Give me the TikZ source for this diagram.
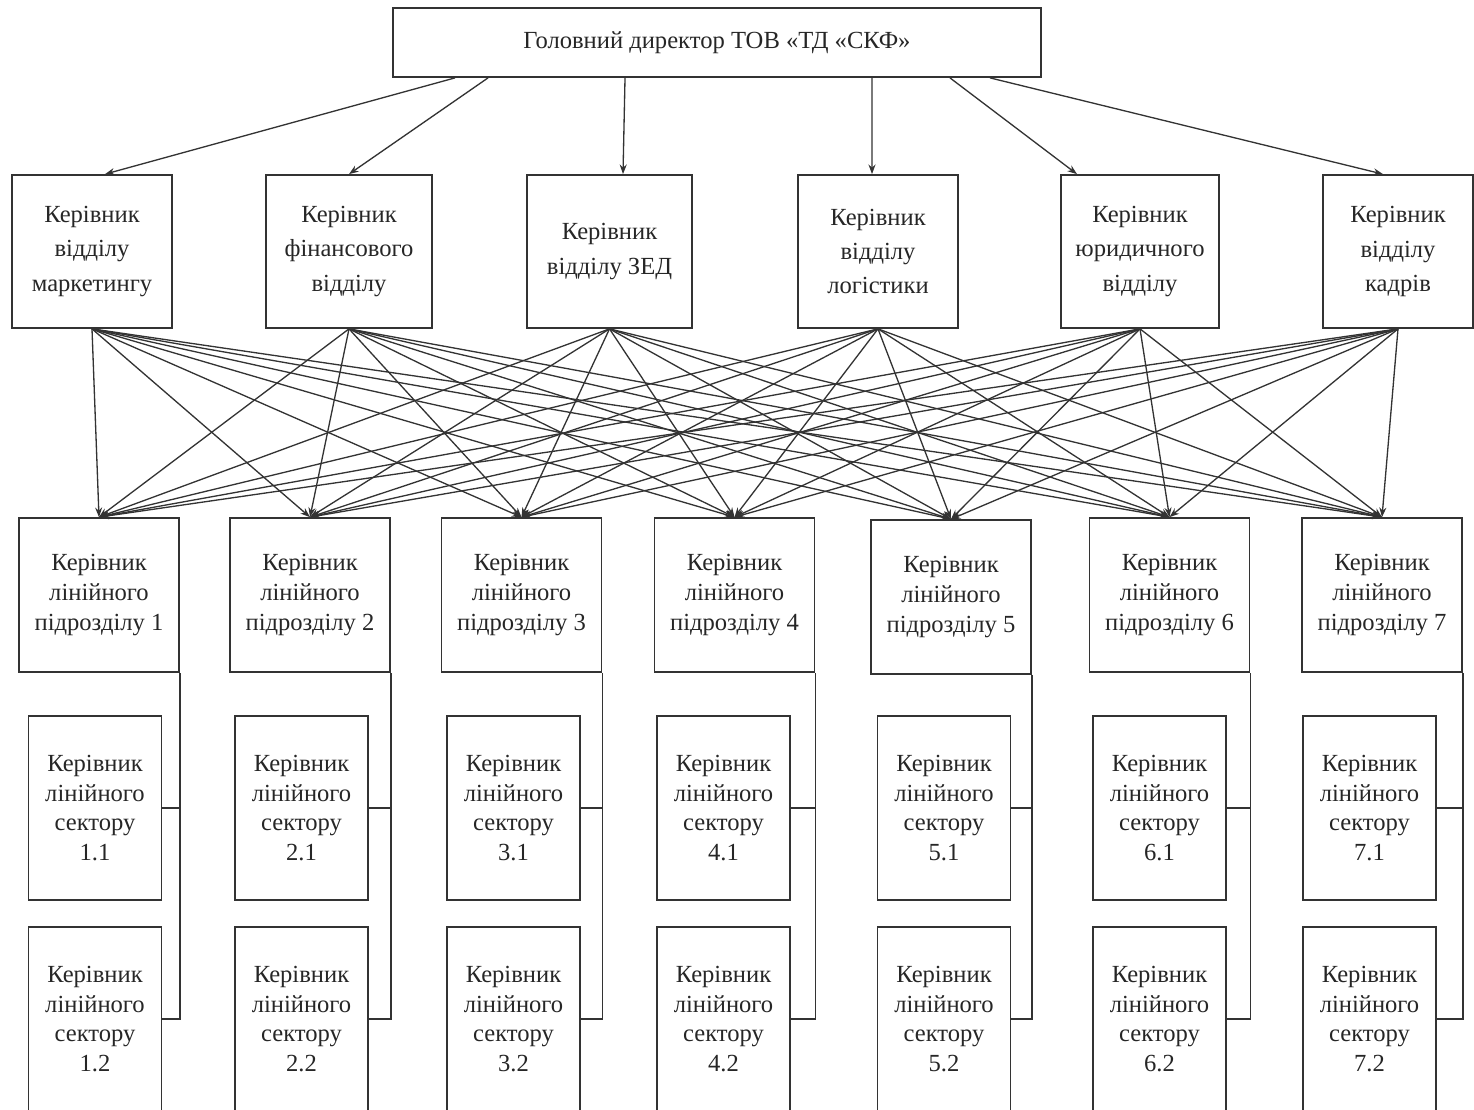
\documentclass[tikz,border=0pt]{standalone}
\usepackage{fontspec}
\setmainfont{Liberation Serif}
\usetikzlibrary{arrows.meta, positioning, calc}
\definecolor{linegray}{HTML}{333333}
\definecolor{textgray}{HTML}{262626}

\begin{document}
\begin{tikzpicture}[x=0.02cm, y=-0.02cm,
  box/.style={rectangle, draw=linegray, line width=1pt, text=textgray, align=center,
    font=\fontsize{14}{17}\selectfont, inner sep=2pt},
  headbox/.style={box, minimum width=12.96cm, minimum height=1.38cm},
  deptbox/.style={box, minimum height=3.06cm, font=\fontsize{14}{19.5}\selectfont},
  linebox/.style={box, minimum width=3.2cm, minimum height=3.08cm},
  sectorbox/.style={box, minimum width=2.66cm, minimum height=3.68cm},
  arrow/.style={-{Stealth[length=5.5pt, width=4pt]}, line width=0.75pt, linegray},
  bracket/.style={line width=0.9pt, linegray}
]
  \clip (0,0) rectangle (1474,1109);

  % Director
  \node[headbox] (dir) at (717, 42.5) {Головний директор ТОВ «ТД «СКФ»};

  % Departments
  \node[deptbox, minimum width=3.2cm]  (d1) at (92, 251.5)   {Керівник\\відділу\\маркетингу};
  \node[deptbox, minimum width=3.32cm] (d2) at (349, 251.5)  {Керівник\\фінансового\\відділу};
  \node[deptbox, minimum width=3.3cm]  (d3) at (609.5, 251.5) {Керівник\\відділу ЗЕД};
  \node[deptbox, minimum width=3.2cm]  (d4) at (878, 251.5)  {Керівник\\відділу\\логістики};
  \node[deptbox, minimum width=3.16cm] (d5) at (1140, 251.5) {Керівник\\юридичного\\відділу};
  \node[deptbox, minimum width=3.0cm]  (d6) at (1398, 251.5) {Керівник\\відділу\\кадрів};

  \draw[arrow] ([xshift=-5.24cm]dir.south) -- ([xshift=0.26cm]d1.north);
  \draw[arrow] ([xshift=-4.58cm]dir.south) -- (d2.north);
  \draw[arrow] ([xshift=-1.84cm]dir.south) -- ([xshift=0.27cm]d3.north);
  \draw[arrow] ([xshift=3.1cm]dir.south) -- ([xshift=-0.12cm]d4.north);
  \draw[arrow] ([xshift=4.66cm]dir.south) -- ([xshift=-1.26cm]d5.north);
  \draw[arrow] ([xshift=5.46cm]dir.south) -- ([xshift=-0.3cm]d6.north);

  % Line subdivisions
  \foreach \i/\x/\y in {1/99/595, 2/310/595, 3/521.5/595, 4/734.5/595,
                        5/951/597, 6/1169.5/595, 7/1382/595}
    \node[linebox] (l\i) at (\x, \y) {Керівник\\лінійного\\підрозділу \i};

  \foreach \d in {1,...,6}
    \foreach \l in {1,...,7}
      \draw[arrow] (d\d.south) -- (l\l.north);

  % Sectors
  \foreach \i/\x in {1/95, 2/301.5, 3/513.5, 4/723.5, 5/944, 6/1159.5, 7/1369.5} {
    \node[sectorbox] (s\i-1) at (\x, 808)  {Керівник\\лінійного\\сектору\\\i.1};
    \node[sectorbox] (s\i-2) at (\x, 1019) {Керівник\\лінійного\\сектору\\\i.2};
    \draw[bracket] (l\i.south east) -- (l\i.south east |- s\i-2.east) -- (s\i-2.east);
    \draw[bracket] (l\i.south east |- s\i-1.east) -- (s\i-1.east);
  }
\end{tikzpicture}
\end{document}
